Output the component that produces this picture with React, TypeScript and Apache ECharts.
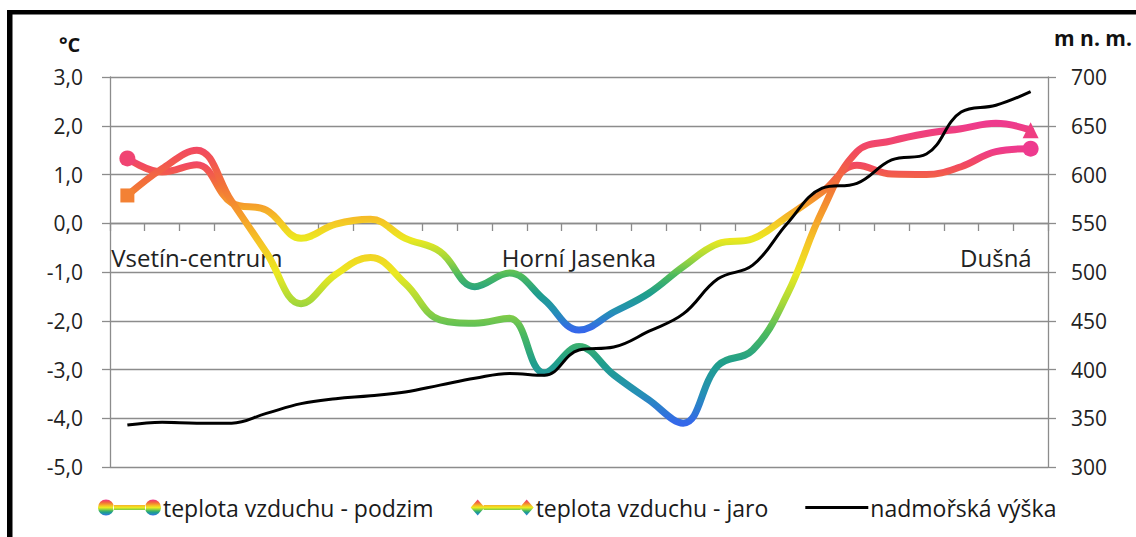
import React, { useEffect, useRef } from 'react';
import * as echarts from 'echarts';

// Category labels (27 measuring points; only three are named on the axis)
const categories: string[] = [
  '', '', 'Vsetín-centrum', '', '', '', '', '', '', '',
  '', '', '', 'Horní Jasenka', '', '', '', '', '', '',
  '', '', '', '', '', 'Dušná', '',
];

// air temperature – autumn (°C)
const podzim: number[] = [
  1.33, 1.05, 1.2, 0.42, 0.27, -0.31, -0.02, 0.08, -0.31, -0.58,
  -1.3, -1.02, -1.57, -2.19, -1.82, -1.44, -0.89, -0.42, -0.32, 0.14,
  0.64, 1.19, 1.01, 1.0, 1.16, 1.47, 1.53,
];

// air temperature – spring (°C)
const jaro: number[] = [
  0.57, 1.12, 1.5, 0.45, -0.6, -1.65, -1.05, -0.7, -1.24, -1.98,
  -2.05, -1.95, -3.07, -2.53, -3.11, -3.62, -4.1, -2.92, -2.6, -1.45,
  0.25, 1.47, 1.69, 1.84, 1.94, 2.05, 1.91,
];

// altitude (m n. m.)
const vyska: number[] = [
  343, 346, 345, 345, 355, 365, 370, 373, 377, 384,
  391, 396, 394, 420, 423, 439, 457, 493, 507, 550,
  586, 591, 615, 621, 664, 671, 685,
];

const seriesNames = ['teplota vzduchu - podzim', 'teplota vzduchu - jaro', 'nadmořská výška'];

// colour ramp, from series minimum to series maximum
const RAMP = [
  '#3568ea', '#2590b5', '#1f9e8c', '#4bb95e', '#a5d83a', '#ece920',
  '#f5c626', '#f59a2c', '#f2703a', '#f24d5a', '#ee3a8e',
];

const FONT = '"Open Sans", "DejaVu Sans", sans-serif';
const GRID = '#8c8c8c';

function legendGradient() {
  const stops = RAMP.slice().reverse().map((c, i, a) => ({ offset: i / (a.length - 1), color: c }));
  return new echarts.graphic.LinearGradient(0, 0, 0, 1, stops);
}

const ICON_CIRCLES =
  'path://M0,8A8,8 0 1,0 16,8A8,8 0 1,0 0,8Z M15,5.5L48,5.5L48,10.5L15,10.5Z M47,8A8,8 0 1,0 63,8A8,8 0 1,0 47,8Z';
const ICON_DIAMONDS =
  'path://M0,8L7,0L14,8L7,16Z M13,5.5L50,5.5L50,10.5L13,10.5Z M49,8L56,0L63,8L56,16Z';
const ICON_LINE = 'path://M0,6.5L63,6.5L63,9.5L0,9.5Z';

export default function App() {
  const ref = useRef<HTMLDivElement>(null);

  useEffect(() => {
    if (!ref.current) return;
    const chart = echarts.init(ref.current, undefined, { renderer: 'svg' });
    const last = podzim.length - 1;

    chart.setOption({
      animation: false,
      backgroundColor: '#fff',
      textStyle: { fontFamily: FONT },
      grid: { left: 110, right: 88, top: 77, bottom: 70, containLabel: false },
      visualMap: [
        {
          type: 'continuous', show: false, seriesIndex: 0, dimension: 1,
          min: Math.min(...podzim), max: Math.max(...podzim),
          inRange: { color: RAMP },
        },
        {
          type: 'continuous', show: false, seriesIndex: 1, dimension: 1,
          min: Math.min(...jaro), max: Math.max(...jaro),
          inRange: { color: RAMP },
        },
      ],
      legend: {
        left: 93,
        top: 491,
        itemWidth: 63,
        itemHeight: 16,
        itemGap: 37,
        textStyle: { fontSize: 23, color: '#1a1a1a', fontFamily: FONT, padding: [0, 0, 0, -3] },
        data: [
          { name: seriesNames[0], icon: ICON_CIRCLES, itemStyle: { color: legendGradient() } },
          { name: seriesNames[1], icon: ICON_DIAMONDS, itemStyle: { color: legendGradient() } },
          { name: seriesNames[2], icon: ICON_LINE, itemStyle: { color: '#000' } },
        ],
      },
      xAxis: {
        type: 'category',
        data: categories,
        boundaryGap: true,
        // the category axis crosses the temperature axis at 0 °C
        offset: -244,
        axisLine: { show: true, onZero: false, lineStyle: { color: GRID, width: 1.3 } },
        axisTick: { show: true, length: 8, interval: 0, lineStyle: { color: GRID, width: 1.3 } },
        axisLabel: { interval: 0, fontSize: 24, color: '#222', margin: 22, fontFamily: FONT },
        splitLine: { show: false },
        z: 0,
      },
      yAxis: [
        {
          type: 'value', position: 'left', min: -5, max: 3, interval: 1,
          axisLine: { show: true, lineStyle: { color: GRID, width: 1.3 } },
          axisTick: { show: true, length: 8, lineStyle: { color: GRID, width: 1.3 } },
          axisLabel: {
            margin: 27, fontSize: 21, color: '#222', fontFamily: FONT,
            formatter: (v: number) => v.toFixed(1).replace('.', ','),
          },
          splitLine: { show: true, lineStyle: { color: GRID, width: 1.3 } },
        },
        {
          type: 'value', position: 'right', min: 300, max: 700, interval: 50,
          axisLine: { show: true, lineStyle: { color: GRID, width: 1.3 } },
          axisTick: { show: true, length: 8, lineStyle: { color: GRID, width: 1.3 } },
          axisLabel: { margin: 23, fontSize: 21, color: '#222', fontFamily: FONT },
          splitLine: { show: false },
        },
      ],
      series: [
        {
          name: seriesNames[0],
          type: 'line',
          yAxisIndex: 0,
          data: podzim,
          smooth: 0.4,
          showAllSymbol: true,
          symbol: 'circle',
          symbolSize: (_v: any, p: any) => (p.dataIndex === 0 || p.dataIndex === last ? 16 : 0),
          itemStyle: { borderWidth: 0 },
          lineStyle: { width: 7, cap: 'round', join: 'round' },
          z: 2,
        },
        {
          name: seriesNames[1],
          type: 'line',
          yAxisIndex: 0,
          data: jaro,
          smooth: 0.4,
          showAllSymbol: true,
          symbol: (_v: any, p: any) => (p.dataIndex === 0 ? 'rect' : 'triangle'),
          symbolSize: (_v: any, p: any) => (p.dataIndex === 0 ? 14 : p.dataIndex === last ? 16 : 0),
          itemStyle: { borderWidth: 0 },
          lineStyle: { width: 7, cap: 'round', join: 'round' },
          z: 3,
        },
        {
          name: seriesNames[2],
          type: 'line',
          yAxisIndex: 1,
          data: vyska,
          smooth: 0.4,
          symbol: 'none',
          itemStyle: { color: '#000' },
          lineStyle: { width: 3, color: '#000' },
          z: 4,
        },
      ],
      graphic: [
        { type: 'rect', shape: { x: 7, y: 10, width: 5.5, height: 540 }, style: { fill: '#000' }, silent: true },
        { type: 'rect', shape: { x: 7, y: 10, width: 1140, height: 4.5 }, style: { fill: '#000' }, silent: true },
        {
          type: 'text', x: 59, y: 44,
          style: { text: '°C', fill: '#111', fontSize: 20, fontWeight: 'bold', fontFamily: FONT, verticalAlign: 'middle' },
        },
        {
          type: 'text', x: 1054, y: 38,
          style: { text: 'm n. m.', fill: '#111', fontSize: 21, fontWeight: 'bold', fontFamily: FONT, verticalAlign: 'middle' },
        },
      ],
    });

    return () => chart.dispose();
  }, []);

  return (
    <div
      ref={ref}
      style={{ position: 'fixed', left: 0, top: 0, width: 1136, height: 537, background: '#fff' }}
    />
  );
}
